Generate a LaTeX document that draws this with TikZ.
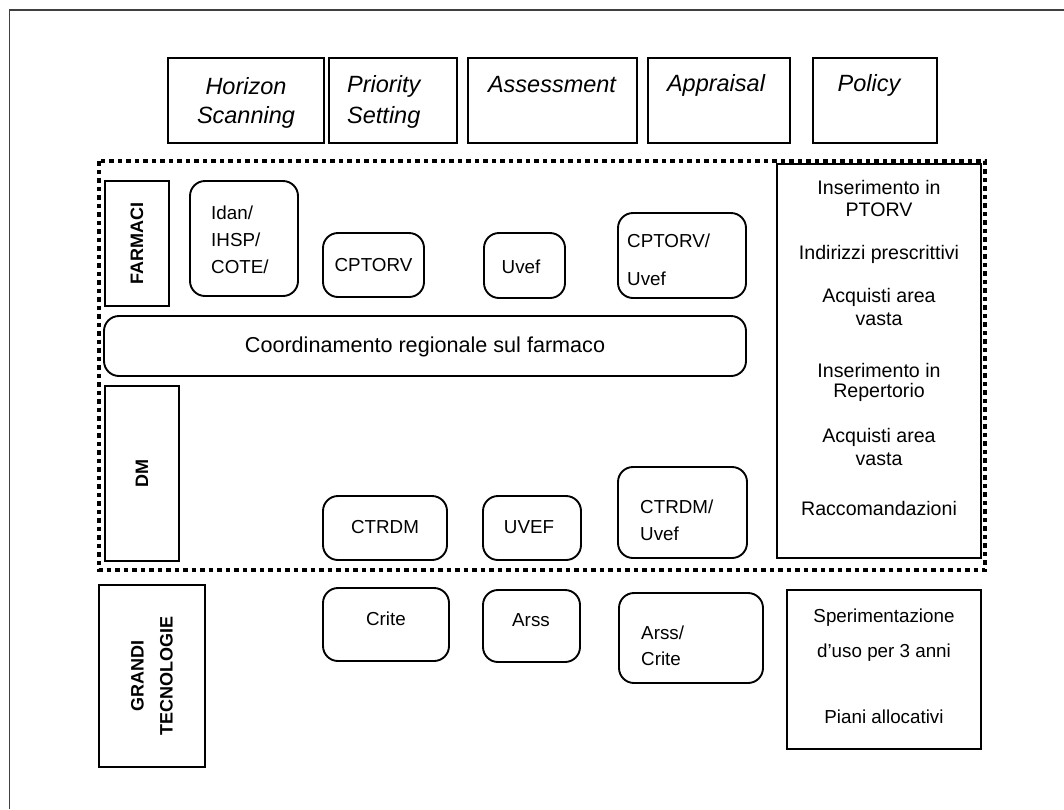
\documentclass[tikz,border=0pt]{standalone}
\usepackage{fontspec}
\setmainfont{Liberation Sans}
\newcommand\setfs[1]{\fontsize{#1}{#1}\selectfont}
\begin{document}
\begin{tikzpicture}[x=1pt,y=-1pt,
  frame/.style={draw, line width=1.9pt, inner sep=0pt, outer sep=0pt},
  hbox/.style={frame},
  rbox/.style={frame, rounded corners=15pt},
  lbl/.style={inner sep=0pt, font=\setfs{18.8}},
  llbl/.style={lbl, anchor=west},
  hdr/.style={inner sep=0pt, font=\setfs{23.5}\itshape},
  side/.style={inner sep=0pt, font=\setfs{18}\bfseries, rotate=90, align=center},
  pol/.style={inner sep=0pt, font=\setfs{19.6}},
]
\useasboundingbox (0,0) rectangle (1064,809);
\fill[white] (0,0) rectangle (1064,809);
% page edge
\draw[black!75, line width=1.5pt] (9.5,809) -- (9.5,10) -- (1064,10);

% phase headers
\node[hbox, minimum width=156pt, minimum height=85pt] (hs) at (246,100.5) {};
\node[hdr] (hs1) at (246,86) {Horizon};
\node[hdr] (hs2) at (246,117) {Scanning};
\node[hbox, minimum width=128pt, minimum height=85pt] (ps) at (393,100.5) {};
\node[hdr, anchor=west] (ps1) at (347,86) {Priority};
\node[hdr, anchor=west] (ps2) at (347,117) {Setting};
\node[hbox, minimum width=169pt, minimum height=85pt] (as) at (552.5,100.5) {};
\node[hdr] (as1) at (552,85) {Assessment};
\node[hbox, minimum width=142pt, minimum height=85pt] (ap) at (719,100.5) {};
\node[hdr] (ap1) at (716,85) {Appraisal};
\node[hbox, minimum width=124pt, minimum height=85pt] (po) at (875,100.5) {};
\node[hdr] (po1) at (869,85) {Policy};

% dotted regional area
\draw[line width=4.5pt, dash pattern=on 4.5pt off 4pt] (99,161) rectangle (985,570);

% FARMACI row
\node[hbox, minimum width=64pt, minimum height=125pt] (farm) at (137,243.5) {};
\node[side] at (farm) {FARMACI};
\node[rbox, minimum width=108pt, minimum height=115pt] (idan) at (244,238.5) {};
\node[llbl] (idan1) at (211,213) {Idan/};
\node[llbl] (idan2) at (211,240) {IHSP/};
\node[llbl] (idan3) at (211,267) {COTE/};
\node[rbox, minimum width=101pt, minimum height=64pt] (cptorv) at (373.5,265) {};
\node[lbl] at (373.5,265) {CPTORV};
\node[rbox, minimum width=81pt, minimum height=65pt] (uvef) at (524.5,265.5) {};
\node[lbl] at (521,267) {Uvef};
\node[rbox, minimum width=128pt, minimum height=85pt] (cpuv) at (682,255.5) {};
\node[llbl] (cpuv1) at (627,241) {CPTORV/};
\node[llbl] (cpuv2) at (627,279) {Uvef};

% regional coordination
\node[rbox, minimum width=642pt, minimum height=60pt] (coord) at (425,346) {};
\node[inner sep=0pt, font=\setfs{21.6}] at (425,347) {Coordinamento regionale sul farmaco};

% DM row
\node[hbox, minimum width=74pt, minimum height=175pt] (dm) at (142,473.5) {};
\node[side] at (dm) {DM};
\node[rbox, minimum width=124pt, minimum height=64pt] (ctrdm) at (385,528) {};
\node[lbl] at (385,527) {CTRDM};
\node[rbox, minimum width=98pt, minimum height=64pt] (uvef2) at (532,528) {};
\node[lbl] at (529,527) {UVEF};
\node[rbox, minimum width=129pt, minimum height=91pt] (ctuv) at (682.5,512.5) {};
\node[llbl] (ctuv1) at (640,507) {CTRDM/};
\node[llbl] (ctuv2) at (640,534) {Uvef};

% policy outcomes
\node[hbox, minimum width=204pt, minimum height=394pt] (outc) at (879,361) {};
\node[pol] (o1) at (879,187) {Inserimento in};
\node[pol] (o2) at (879,210) {PTORV};
\node[pol] (o3) at (879,254) {Indirizzi prescrittivi};
\node[pol] (o4) at (879,297) {Acquisti area};
\node[pol] (o5) at (879,319) {vasta};
\node[pol] (o6) at (879,370) {Inserimento in};
\node[pol] (o7) at (879,392) {Repertorio};
\node[pol] (o8) at (879,437) {Acquisti area};
\node[pol] (o9) at (879,459) {vasta};
\node[pol] (o10) at (879,508) {Raccomandazioni};

% GRANDI TECNOLOGIE row
\node[hbox, minimum width=106pt, minimum height=182pt] (gt) at (152,676) {};
\node[side] at (152,676) {GRANDI\\[11pt]TECNOLOGIE};
\node[rbox, minimum width=126pt, minimum height=73pt] (crite) at (386,624.5) {};
\node[lbl] at (386,619) {Crite};
\node[rbox, minimum width=97pt, minimum height=72pt] (arss) at (531.5,626) {};
\node[lbl] at (531,620) {Arss};
\node[rbox, minimum width=144pt, minimum height=90pt] (arcr) at (691,638) {};
\node[llbl] (arcr1) at (641,633) {Arss/};
\node[llbl] (arcr2) at (641,659) {Crite};
\node[hbox, minimum width=194pt, minimum height=159pt] (sper) at (884,669.5) {};
\node[lbl] (s1) at (884,618) {Sperimentazione};
\node[lbl] (s2) at (884,653) {d’uso per 3 anni};
\node[lbl] (s3) at (884,717) {Piani allocativi};
\end{tikzpicture}
\end{document}
